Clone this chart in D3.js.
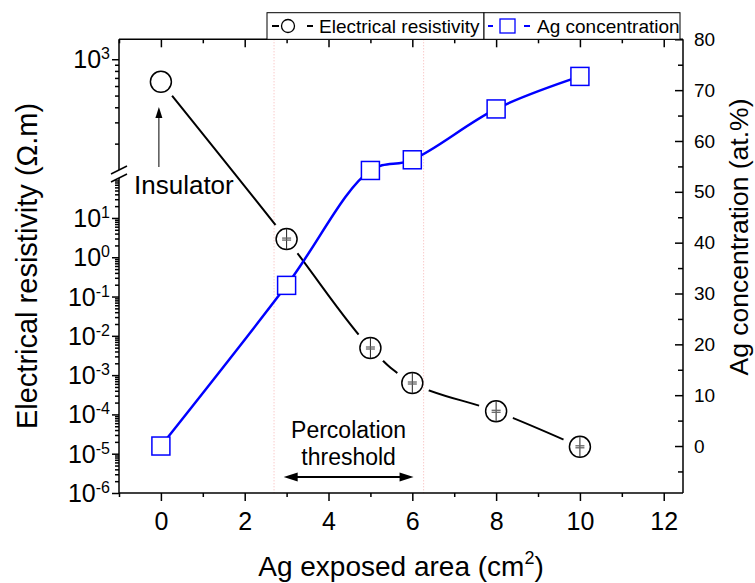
<!DOCTYPE html>
<html>
<head>
<meta charset="utf-8">
<script src="https://cdn.jsdelivr.net/npm/d3@7"></script>
<style>
  body { margin: 0; background: #fff; }
  svg text { font-family: 'Liberation Sans', Arial, sans-serif; fill: #000; }
</style>
</head>
<body>
<div id="chart"></div>
<script>
// values
const areas = [0, 3, 5, 6, 8, 10];
const resistivity = [650, 2.9, 4.9e-3, 6.3e-4, 1.2e-4, 1.5e-5];
const agConcentration = [0, 31.6, 54.2, 56.3, 66.3, 72.7];
const xTickValues = [0, 2, 4, 6, 8, 10, 12];
const xMinorValues = [-1, 1, 3, 5, 7, 9, 11];
const lowerDecades = [-6, -5, -4, -3, -2, -1, 0, 1];
const upperDecades = [3];
const rightTickValues = [0, 10, 20, 30, 40, 50, 60, 70, 80];
const rightMinorValues = [-5, 5, 15, 25, 35, 45, 55, 65, 75];
const thresholdBounds = [2.7, 6.27];
const percolationSpan = [2.93, 6.03];

function renderChart(containerSelector) {
  const W = 755, H = 583;
  const margin = { top: 39.3, right: 72, bottom: 90, left: 119 };
  const width = W - margin.left - margin.right;
  const height = H - margin.top - margin.bottom;
  const breakHigh = 130.7, breakLow = 138.7;   // gap in the left axis

  const svg = d3.select(containerSelector).append('svg')
    .attr('width', W).attr('height', H);
  const g = svg.append('g').attr('transform', `translate(${margin.left},${margin.top})`);

  const x = d3.scaleLinear().domain([-1, 12.46]).range([0, width]);
  const yLow = d3.scaleLog().domain([1e-6, Math.pow(10, 2.017)]).range([height, breakLow]);
  const yUp = d3.scaleLog().domain([121, 1462]).range([breakHigh, 0]);
  const yRes = v => (v > 100 ? yUp(v) : yLow(v));
  const yAg = d3.scaleLinear().domain([-9.24, 80]).range([height, 0]);

  // threshold guides
  g.selectAll('line.thr').data(thresholdBounds).join('line')
    .attr('x1', d => x(d)).attr('x2', d => x(d))
    .attr('y1', 0).attr('y2', height)
    .attr('stroke', '#f6b3b3').attr('stroke-width', 1)
    .attr('stroke-dasharray', '1,2');

  const styleAxis = (sel, size) => {
    sel.select('.domain').remove();
    sel.selectAll('line').attr('stroke', '#000').attr('stroke-width', 1.5);
    if (size) sel.selectAll('text').style('font-size', size + 'px');
  };

  // bottom / top
  g.append('g').attr('transform', `translate(0,${height})`)
    .call(d3.axisBottom(x).tickValues(xTickValues).tickSize(8).tickPadding(11).tickFormat(d3.format('d')))
    .call(s => styleAxis(s, 25));
  g.append('g').attr('transform', `translate(0,${height})`)
    .call(d3.axisBottom(x).tickValues(xMinorValues).tickSize(4).tickFormat(''))
    .call(s => styleAxis(s));
  g.append('g')
    .call(d3.axisTop(x).tickValues(xTickValues).tickSize(-8).tickFormat(''))
    .call(s => styleAxis(s));
  g.append('g')
    .call(d3.axisTop(x).tickValues(xMinorValues).tickSize(-4).tickFormat(''))
    .call(s => styleAxis(s));

  // right
  g.append('g').attr('transform', `translate(${width},0)`)
    .call(d3.axisRight(yAg).tickValues(rightTickValues).tickSize(-8).tickPadding(11))
    .call(s => styleAxis(s, 19));
  g.append('g').attr('transform', `translate(${width},0)`)
    .call(d3.axisRight(yAg).tickValues(rightMinorValues).tickSize(-5).tickFormat(''))
    .call(s => styleAxis(s));

  // left, lower segment
  const lowMinor = [];
  lowerDecades.concat([2]).forEach(e => {
    for (let k = 2; k <= 9; k++) {
      const v = k * Math.pow(10, e);
      if (v < yLow.domain()[1]) lowMinor.push(v);
    }
  });
  g.append('g')
    .call(d3.axisLeft(yLow).tickValues(lowerDecades.map(e => Math.pow(10, e))).tickSize(7).tickFormat(''))
    .call(s => styleAxis(s));
  g.append('g')
    .call(d3.axisLeft(yLow).tickValues(lowMinor).tickSize(4).tickFormat(''))
    .call(s => styleAxis(s));

  // left, upper segment
  const upMinor = [];
  [2, 3].forEach(e => {
    for (let k = 2; k <= 9; k++) {
      const v = k * Math.pow(10, e);
      if (v > yUp.domain()[0] && v < yUp.domain()[1]) upMinor.push(v);
    }
  });
  g.append('g')
    .call(d3.axisLeft(yUp).tickValues(upperDecades.map(e => Math.pow(10, e))).tickSize(7).tickFormat(''))
    .call(s => styleAxis(s));
  g.append('g')
    .call(d3.axisLeft(yUp).tickValues(upMinor).tickSize(4).tickFormat(''))
    .call(s => styleAxis(s));

  // power-of-ten labels
  const decLabels = lowerDecades.map(e => ({ e, y: yLow(Math.pow(10, e)) }))
    .concat(upperDecades.map(e => ({ e, y: yUp(Math.pow(10, e)) })));
  const lab = g.selectAll('text.dec').data(decLabels).join('text')
    .attr('class', 'dec')
    .attr('x', -9).attr('y', d => d.y + 9)
    .attr('text-anchor', 'end')
    .style('font-size', '25px');
  lab.append('tspan').text('10');
  lab.append('tspan').attr('dy', -9).style('font-size', '16px').text(d => d.e);

  // frame
  const frame = g.append('g').attr('stroke', '#000').attr('stroke-width', 1.5).attr('fill', 'none');
  frame.append('line').attr('x1', 0).attr('x2', width).attr('y1', 0).attr('y2', 0);
  frame.append('line').attr('x1', 0).attr('x2', width).attr('y1', height).attr('y2', height);
  frame.append('line').attr('x1', width).attr('x2', width).attr('y1', 0).attr('y2', height);
  frame.append('line').attr('x1', 0).attr('x2', 0).attr('y1', 0).attr('y2', breakHigh);
  frame.append('line').attr('x1', 0).attr('x2', 0).attr('y1', breakLow).attr('y2', height);
  [breakHigh, breakLow].forEach(b => {
    frame.append('line').attr('x1', -8).attr('y1', b + 4).attr('x2', 8).attr('y2', b - 4);
  });

  // gaps of the black line around its symbols
  const resPts = areas.map((a, i) => [x(a), yRes(resistivity[i])]);
  const agPts = areas.map((a, i) => [x(a), yAg(agConcentration[i])]);
  const mask = svg.append('defs').append('mask').attr('id', 'resGap')
    .attr('maskUnits', 'userSpaceOnUse')
    .attr('x', -margin.left).attr('y', -margin.top).attr('width', W).attr('height', H);
  mask.append('rect').attr('x', -margin.left).attr('y', -margin.top)
    .attr('width', W).attr('height', H).attr('fill', '#fff');
  mask.selectAll('circle').data(resPts).join('circle')
    .attr('cx', d => d[0]).attr('cy', d => d[1]).attr('r', 18).attr('fill', '#000');

  const line = d3.line().curve(d3.curveCatmullRom.alpha(0.5));

  g.append('path').attr('d', line(resPts))
    .attr('fill', 'none').attr('stroke', '#000').attr('stroke-width', 2)
    .attr('mask', 'url(#resGap)');
  g.append('path').attr('d', line(agPts))
    .attr('fill', 'none').attr('stroke', '#0000ff').attr('stroke-width', 2.5);

  // circles with small error bars
  const r = 10.5;
  const circ = g.selectAll('g.res').data(resPts).join('g')
    .attr('class', 'res')
    .attr('transform', d => `translate(${d[0]},${d[1]})`);
  circ.append('circle').attr('r', r)
    .attr('fill', '#fff').attr('stroke', '#000').attr('stroke-width', 1.5);
  circ.filter((d, i) => i > 0).append('line')
    .attr('x1', 0).attr('x2', 0).attr('y1', -r).attr('y2', r)
    .attr('stroke', '#222').attr('stroke-width', 1);
  circ.filter((d, i) => i > 0).selectAll('line.cap').data([-1, 1]).join('line')
    .attr('class', 'cap')
    .attr('x1', -4.5).attr('x2', 4.5).attr('y1', d => d).attr('y2', d => d)
    .attr('stroke', '#666').attr('stroke-width', 1.3);

  // squares
  const sq = 18;
  g.selectAll('rect.ag').data(agPts).join('rect')
    .attr('class', 'ag')
    .attr('x', d => d[0] - sq / 2).attr('y', d => d[1] - sq / 2)
    .attr('width', sq).attr('height', sq)
    .attr('fill', '#fff').attr('stroke', '#0000ff').attr('stroke-width', 1.5);

  // Insulator annotation
  const ix = x(areas[0]) - 2;
  g.append('line').attr('x1', ix).attr('x2', ix).attr('y1', 167 - margin.top).attr('y2', 116 - margin.top)
    .attr('stroke', '#000').attr('stroke-width', 1);
  g.append('path')
    .attr('d', `M${ix},${107 - margin.top} L${ix - 3.5},${118 - margin.top} L${ix + 3.5},${118 - margin.top} Z`)
    .attr('fill', '#000');
  g.append('text').attr('x', 134 - margin.left).attr('y', 194 - margin.top)
    .style('font-size', '26px').text('Insulator');

  // Percolation threshold annotation
  const pmid = x((percolationSpan[0] + percolationSpan[1]) / 2);
  g.append('text').attr('x', pmid).attr('y', 438 - margin.top)
    .attr('text-anchor', 'middle').style('font-size', '23px').text('Percolation');
  g.append('text').attr('x', pmid).attr('y', 465 - margin.top)
    .attr('text-anchor', 'middle').style('font-size', '23px').text('threshold');
  const ay = 477 - margin.top;
  const ax0 = x(percolationSpan[0]), ax1 = x(percolationSpan[1]);
  g.append('line').attr('x1', ax0 + 8).attr('x2', ax1 - 8).attr('y1', ay).attr('y2', ay)
    .attr('stroke', '#000').attr('stroke-width', 2);
  g.append('path')
    .attr('d', `M${ax0},${ay} L${ax0 + 14},${ay - 4.5} L${ax0 + 14},${ay + 4.5} Z M${ax1},${ay} L${ax1 - 14},${ay - 4.5} L${ax1 - 14},${ay + 4.5} Z`)
    .attr('fill', '#000');

  // axis titles
  svg.append('text')
    .attr('transform', 'translate(37,266) rotate(-90)')
    .attr('text-anchor', 'middle').style('font-size', '29px')
    .text('Electrical resistivity (Ω.m)');
  svg.append('text')
    .attr('transform', 'translate(748,237) rotate(-90)')
    .attr('text-anchor', 'middle').style('font-size', '26.5px')
    .text('Ag concentration (at.%)');
  const xt = svg.append('text')
    .attr('x', margin.left + width / 2).attr('y', 576)
    .attr('text-anchor', 'middle').style('font-size', '28px');
  xt.append('tspan').text('Ag exposed area (cm');
  xt.append('tspan').attr('dy', -12).style('font-size', '18px').text('2');
  xt.append('tspan').attr('dy', 12).text(')');

  // legend
  const leg = svg.append('g');
  leg.append('rect').attr('x', 267).attr('y', 12.7).attr('width', 217).attr('height', 26.6)
    .attr('fill', '#fff').attr('stroke', '#000').attr('stroke-width', 1);
  leg.append('rect').attr('x', 484).attr('y', 12.7).attr('width', 196).attr('height', 26.6)
    .attr('fill', '#fff').attr('stroke', '#000').attr('stroke-width', 1);
  [[272, 279], [307, 313]].forEach(s => leg.append('line')
    .attr('x1', s[0]).attr('x2', s[1]).attr('y1', 26).attr('y2', 26)
    .attr('stroke', '#000').attr('stroke-width', 2));
  leg.append('circle').attr('cx', 288).attr('cy', 26).attr('r', 6.5)
    .attr('fill', '#fff').attr('stroke', '#000').attr('stroke-width', 1.3);
  leg.append('text').attr('x', 319).attr('y', 32.5).style('font-size', '19px').text('Electrical resistivity');
  [[488, 493], [524, 530]].forEach(s => leg.append('line')
    .attr('x1', s[0]).attr('x2', s[1]).attr('y1', 26).attr('y2', 26)
    .attr('stroke', '#0000ff').attr('stroke-width', 2));
  leg.append('rect').attr('x', 500).attr('y', 19).attr('width', 15).attr('height', 14)
    .attr('fill', '#fff').attr('stroke', '#0000ff').attr('stroke-width', 1.3);
  leg.append('text').attr('x', 537).attr('y', 32.5).style('font-size', '19px').text('Ag concentration');
}

renderChart('#chart');
</script>
</body>
</html>
